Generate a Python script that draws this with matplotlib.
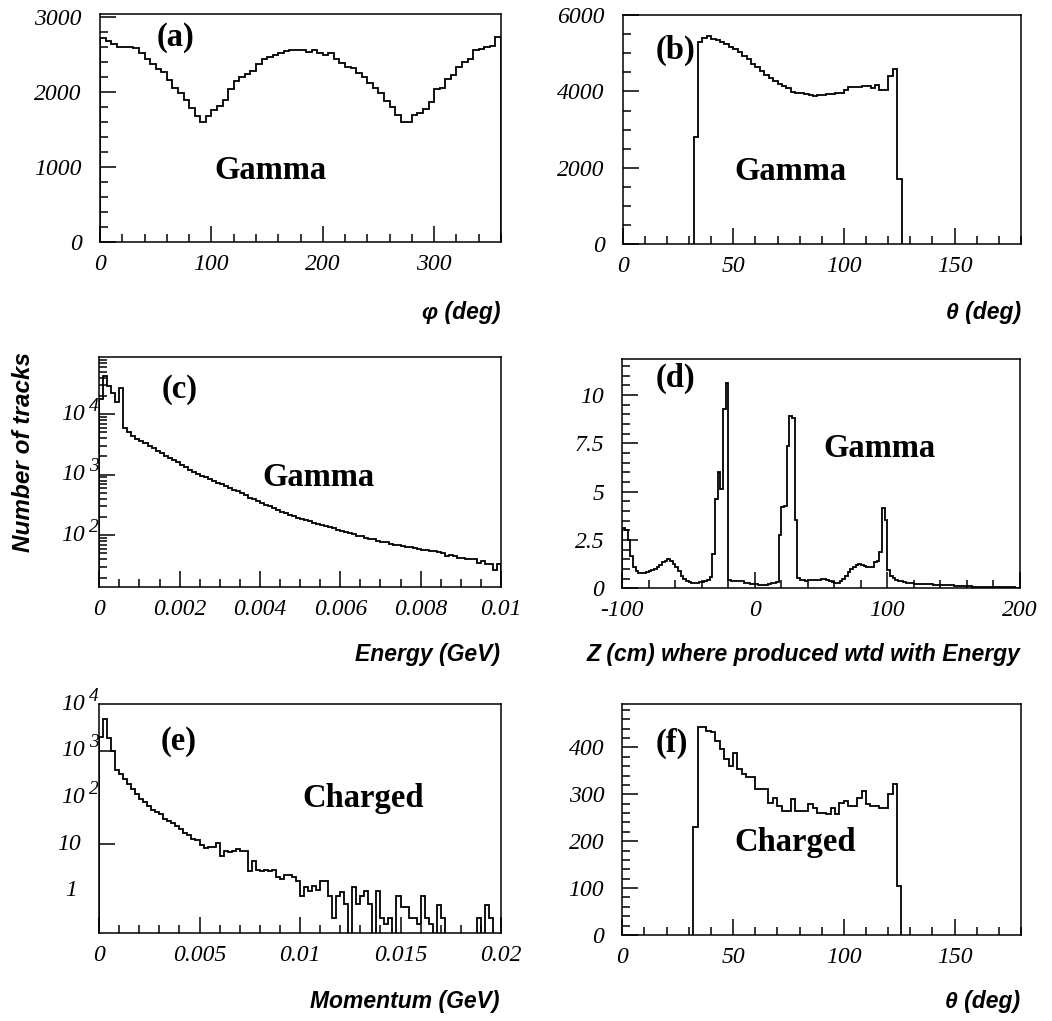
import numpy as np
import matplotlib
matplotlib.use("Agg")
import matplotlib.pyplot as plt
from matplotlib.ticker import MultipleLocator, LogLocator, NullFormatter, FormatStrFormatter
from matplotlib.transforms import ScaledTranslation

plt.rcParams['axes.unicode_minus'] = False
plt.rcParams['font.family'] = 'Liberation Serif'
plt.rcParams['font.style'] = 'italic'

# ---------------- data ----------------
# (a) gamma azimuth, 5 degree bins from 0
phi_start, phi_bin = 0.0, 5.0
phi_counts = [2720, 2690, 2650, 2600, 2600, 2600, 2590, 2520, 2440, 2380,
              2310, 2270, 2160, 2060, 1990, 1900, 1790, 1680, 1610, 1680,
              1760, 1820, 1900, 2040, 2150, 2200, 2250, 2290, 2380, 2440,
              2470, 2500, 2520, 2550, 2570, 2560, 2570, 2540, 2560, 2520,
              2500, 2530, 2450, 2390, 2340, 2330, 2260, 2200, 2130, 2060,
              1990, 1890, 1800, 1700, 1600, 1610, 1700, 1720, 1780, 1870,
              2040, 2060, 2180, 2230, 2340, 2400, 2450, 2560, 2580, 2610,
              2620, 2740]

# (b) gamma polar angle, 2 degree bins from 32 deg
theta_start, theta_bin = 32.0, 2.0
theta_gamma_counts = [2800, 5300, 5400, 5440, 5380, 5340, 5290, 5240, 5170, 5100,
                      5040, 4940, 4850, 4730, 4640, 4530, 4440, 4360, 4280, 4200,
                      4150, 4080, 3980, 3950, 3950, 3940, 3900, 3870, 3910, 3900,
                      3920, 3940, 3950, 3950, 4050, 4110, 4110, 4120, 4130, 4150,
                      4090, 4160, 4050, 4040, 4400, 4580, 1700]

# (c) gamma energy, 0.0001 GeV bins
energy_start, energy_bin = 0.0, 0.0001
energy_counts = [18000, 42000, 29000, 22000, 16000, 27000, 6000, 5000, 4400, 3900,
                 3600, 3300, 3000, 2750, 2500, 2250, 2050, 1900, 1750, 1600,
                 1450, 1320, 1200, 1100, 1020, 950, 900, 840, 790, 740,
                 690, 640, 600, 560, 530, 490, 455, 420, 400, 370,
                 345, 320, 300, 280, 262, 245, 232, 218, 205, 195,
                 185, 177, 170, 162, 155, 150, 142, 136, 130, 124,
                 118, 113, 107, 103, 96, 97, 90, 86, 87, 80,
                 78, 76, 73, 70, 68, 66, 64, 63, 61, 60,
                 58, 56, 55, 54, 52, 51, 46, 47, 46, 42,
                 42, 41, 40, 40, 35, 37, 33, 34, 27, 33]

# (d) production z weighted with energy, 2 cm bins from -100 cm
z_start, z_bin = -100.0, 2.0
z_weighted = [3.14, 3.0, 2.5, 1.67, 1.12, 0.88, 0.80, 0.78, 0.80, 0.84,
              0.88, 0.93, 1.0, 1.08, 1.2, 1.38, 1.42, 1.5, 1.4, 1.28,
              1.08, 0.88, 0.65, 0.5, 0.4, 0.33, 0.29, 0.27, 0.3, 0.34,
              0.35, 0.37, 0.45, 0.6, 1.8, 4.6, 6.04, 5.15, 9.3, 10.62,
              0.45, 0.4, 0.38, 0.37, 0.4, 0.36, 0.3, 0.27, 0.24, 0.22,
              0.2, 0.18, 0.17, 0.17, 0.18, 0.22, 0.26, 0.3, 0.32, 2.75,
              4.2, 4.25, 7.35, 8.9, 8.8, 3.55, 0.55, 0.43, 0.41, 0.4,
              0.42, 0.43, 0.43, 0.44, 0.45, 0.46, 0.46, 0.45, 0.4, 0.32,
              0.28, 0.3, 0.38, 0.5, 0.65, 0.82, 0.98, 1.1, 1.2, 1.25,
              1.22, 1.15, 1.1, 1.08, 1.12, 1.35, 1.42, 1.9, 4.15, 3.55,
              0.95, 0.65, 0.52, 0.45, 0.4, 0.36, 0.33, 0.3, 0.28, 0.26,
              0.24, 0.23, 0.22, 0.22, 0.21, 0.2, 0.2, 0.19, 0.19, 0.18,
              0.18, 0.17, 0.17, 0.16, 0.15, 0.14, 0.13, 0.12, 0.11, 0.11,
              0.1, 0.1, 0.09, 0.09, 0.08, 0.08, 0.08, 0.07, 0.07, 0.07,
              0.06, 0.07, 0.06, 0.06, 0.05, 0.06, 0.05, 0.05, 0.04, 0.04]

# (e) charged momentum, 0.0002 GeV bins
mom_start, mom_bin = 0.0, 0.0002
mom_counts = [1950, 4800, 1900, 1000, 390, 318, 247, 193, 151, 118,
              93, 79, 67, 54, 48, 44, 35, 32, 28, 25,
              21, 17, 15.4, 13, 12, 9.4, 8.3, 8.5, 8.5, 10.5,
              5.7, 7.3, 6.7, 7.3, 7.9, 7.3, 7.3, 2.7, 4.4, 2.8,
              2.7, 2.8, 2.7, 2.75, 1.96, 1.83, 2.14, 2.2, 1.96, 1.66,
              0.79, 1.23, 1.0, 1.27, 1.04, 1.66, 1.66, 0.79, 0.27, 0.79,
              0.93, 0.52, 0, 1.23, 0.52, 0.79, 1.0, 0.52, 0, 1.0,
              0.27, 0.2, 0.27, 0, 0.79, 0.45, 0.45, 0.27, 0.27, 0.2,
              0.79, 0.27, 0.2, 0, 0.5, 0.27, 0, 0, 0, 0,
              0, 0, 0, 0, 0.27, 0, 0.5, 0.27, 0, 0]

# (f) charged polar angle, same binning as (b)
theta_charged_counts = [230, 443, 443, 436, 432, 414, 396, 375, 360, 389,
                        354, 343, 336, 336, 311, 311, 311, 282, 293, 275,
                        264, 264, 289, 264, 264, 264, 279, 271, 261, 261,
                        257, 271, 257, 282, 286, 275, 275, 293, 307, 279,
                        276, 276, 271, 271, 300, 321, 104]

# ---------------- figure ----------------
W, H = 1052, 1021
fig = plt.figure(figsize=(W / 100, H / 100), dpi=100)


def px_rect(l, t, r, b):
    return [l / W, 1 - b / H, (r - l) / W, (b - t) / H]


def edges(start, width, n):
    return start + width * np.arange(n + 1)


def style(ax, xmaj, xmin, ymaj=None, ymin=None):
    ax.xaxis.set_major_locator(MultipleLocator(xmaj))
    ax.xaxis.set_minor_locator(MultipleLocator(xmin))
    ax.xaxis.set_major_formatter(FormatStrFormatter('%g'))
    if ymaj is not None:
        ax.yaxis.set_major_locator(MultipleLocator(ymaj))
        ax.yaxis.set_minor_locator(MultipleLocator(ymin))
        ax.yaxis.set_major_formatter(FormatStrFormatter('%g'))
    ax.tick_params(which='both', direction='in', top=False, right=False,
                   width=1.1, color='black')
    ax.tick_params(which='major', length=11.5, labelsize=17)
    ax.tick_params(which='minor', length=6)
    ax.tick_params(axis='x', pad=8.5)
    ax.tick_params(axis='y', pad=13)
    for s in ax.spines.values():
        s.set_linewidth(1.1)


def log_labels(ax, entries):
    for val, base, exp, gap in entries:
        tr = ax.get_yaxis_transform() + ScaledTranslation(-gap / 100, 0, fig.dpi_scale_trans)
        ax.text(0, val, base, ha='right', va='center', transform=tr,
                fontsize=17, clip_on=False)
        if exp:
            tr2 = ax.get_yaxis_transform() + ScaledTranslation(-10 / 100, 8 / 100,
                                                                fig.dpi_scale_trans)
            ax.text(0, val, exp, ha='left', va='center', transform=tr2,
                    fontsize=14, clip_on=False)


panel_font = dict(family='Liberation Serif', weight='bold', style='normal', fontsize=23.5)
label_font = dict(family='Liberation Sans', weight='bold', style='italic', fontsize=16.5)
lw = 1.3

# (a)
ax = fig.add_axes(px_rect(100, 14.3, 501, 242.3))
ax.stairs(phi_counts, edges(phi_start, phi_bin, len(phi_counts)), color='black', lw=lw)
ax.set_xlim(0, 360)
ax.set_ylim(0, 3040)
style(ax, 100, 20, 1000, 200)
ax.text(0.188, 0.9, '(a)', transform=ax.transAxes, ha='center', va='center', **panel_font)
ax.text(0.424, 0.315, 'Gamma', transform=ax.transAxes, ha='center', va='center', **panel_font)

# (b)
ax = fig.add_axes(px_rect(622.7, 15, 1021, 244.3))
ax.stairs(theta_gamma_counts, edges(theta_start, theta_bin, len(theta_gamma_counts)),
          baseline=0, color='black', lw=lw)
ax.set_xlim(0, 180)
ax.set_ylim(0, 6000)
style(ax, 50, 10, 2000, 500)
ax.text(0.133, 0.847, '(b)', transform=ax.transAxes, ha='center', va='center', **panel_font)
ax.text(0.422, 0.316, 'Gamma', transform=ax.transAxes, ha='center', va='center', **panel_font)

# (c)
ax = fig.add_axes(px_rect(99.3, 357.3, 501, 587.3))
ax.stairs(energy_counts, edges(energy_start, energy_bin, len(energy_counts)),
          baseline=1, color='black', lw=lw)
ax.set_yscale('log')
ax.set_xlim(0, 0.01)
ax.set_ylim(13.8, 8.7e4)
style(ax, 0.002, 0.0005)
ax.yaxis.set_major_locator(LogLocator(base=10))
ax.yaxis.set_minor_locator(LogLocator(base=10, subs=np.arange(2, 10)))
ax.yaxis.set_major_formatter(NullFormatter())
ax.yaxis.set_minor_formatter(NullFormatter())
log_labels(ax, [(1e2, '10', '2', 14), (1e3, '10', '3', 14), (1e4, '10', '4', 14)])
ax.text(0.2, 0.858, '(c)', transform=ax.transAxes, ha='center', va='center', **panel_font)
ax.text(0.545, 0.478, 'Gamma', transform=ax.transAxes, ha='center', va='center', **panel_font)

# (d)
ax = fig.add_axes(px_rect(622.3, 359, 1020, 588.3))
ax.stairs(z_weighted, edges(z_start, z_bin, len(z_weighted)), baseline=0,
          color='black', lw=lw)
ax.set_xlim(-100, 200)
ax.set_ylim(0, 11.87)
style(ax, 100, 20, 2.5, 0.5)
ax.text(0.134, 0.915, '(d)', transform=ax.transAxes, ha='center', va='center', **panel_font)
ax.text(0.646, 0.61, 'Gamma', transform=ax.transAxes, ha='center', va='center', **panel_font)

# (e)
ax = fig.add_axes(px_rect(99, 704, 501, 933.3))
mom = np.asarray(mom_counts, dtype=float)
ax.stairs(np.where(mom > 0, mom, 1e-3), edges(mom_start, mom_bin, len(mom)),
          baseline=1e-3, color='black', lw=lw)
ax.set_yscale('log')
ax.set_xlim(0, 0.02)
ax.set_ylim(0.124, 1e4)
style(ax, 0.005, 0.001)
ax.yaxis.set_major_locator(LogLocator(base=10))
ax.yaxis.set_minor_locator(LogLocator(base=10, subs=np.arange(2, 10)))
ax.yaxis.set_major_formatter(NullFormatter())
ax.yaxis.set_minor_formatter(NullFormatter())
log_labels(ax, [(1, '1', '', 22), (10, '10', '', 18), (1e2, '10', '2', 14),
                (1e3, '10', '3', 14), (1e4, '10', '4', 14)])
ax.text(0.197, 0.836, '(e)', transform=ax.transAxes, ha='center', va='center', **panel_font)
ax.text(0.658, 0.587, 'Charged', transform=ax.transAxes, ha='center', va='center', **panel_font)

# (f)
ax = fig.add_axes(px_rect(622.3, 704.3, 1021, 935))
ax.stairs(theta_charged_counts, edges(theta_start, theta_bin, len(theta_charged_counts)),
          baseline=0, color='black', lw=lw)
ax.set_xlim(0, 180)
ax.set_ylim(0, 492)
style(ax, 50, 10, 100, 20)
ax.text(0.125, 0.832, '(f)', transform=ax.transAxes, ha='center', va='center', **panel_font)
ax.text(0.433, 0.4, 'Charged', transform=ax.transAxes, ha='center', va='center', **panel_font)

# axis titles
fig.text(500 / W, 1 - 313 / H, 'φ (deg)', ha='right', va='center', **label_font)
fig.text(1021 / W, 1 - 313 / H, 'θ (deg)', ha='right', va='center', **label_font)
fig.text(500 / W, 1 - 655 / H, 'Energy (GeV)', ha='right', va='center', **label_font)
fig.text(1020 / W, 1 - 655 / H, 'Z (cm) where produced wtd with Energy',
         ha='right', va='center', **label_font)
fig.text(500 / W, 1 - 1001 / H, 'Momentum (GeV)', ha='right', va='center', **label_font)
fig.text(1020 / W, 1 - 1001 / H, 'θ (deg)', ha='right', va='center', **label_font)
fig.text(24 / W, 1 - 452 / H, 'Number of tracks', rotation=90, ha='center', va='center',
         family='Liberation Sans', weight='bold', style='italic', fontsize=17.5)

fig.savefig('out.png', dpi=100, facecolor='white')
